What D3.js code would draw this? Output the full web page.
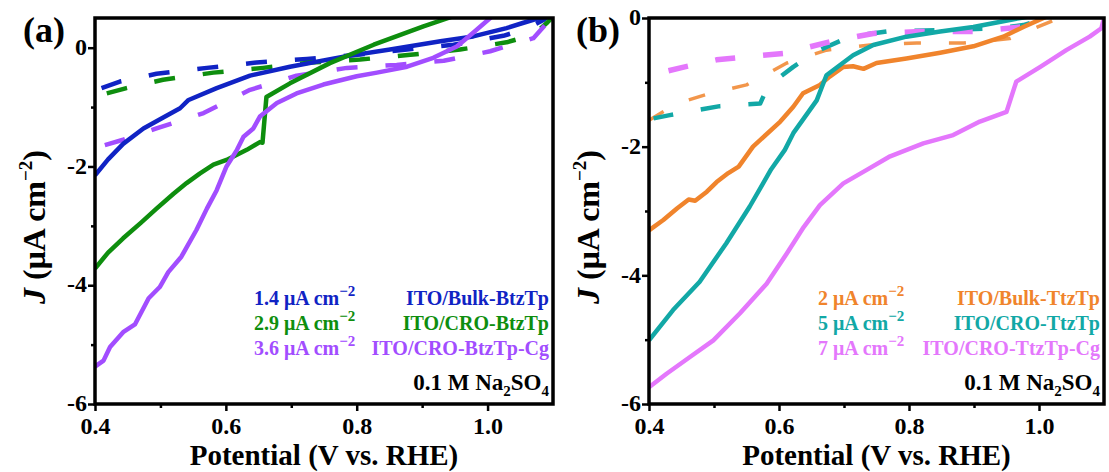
<!DOCTYPE html>
<html><head><meta charset="utf-8">
<script src="https://cdn.jsdelivr.net/npm/d3@7"></script>
<style>
body{margin:0;background:#fff}
svg{display:block}
</style>
</head><body>
<svg id="c" width="1109" height="472"></svg>
<script>
const FONT = "'Liberation Serif', 'Times New Roman', Times, 'DejaVu Serif', serif";
// ---------- tick values / labels ----------
const xTickValues = [0.4, 0.6, 0.8, 1.0];
const xTickLabels = ["0.4", "0.6", "0.8", "1.0"];
const xMinorTicks = [0.5, 0.7, 0.9];
const yTickValues = [0, -2, -4, -6];
const yTickLabels = ["0", "-2", "-4", "-6"];
const yMinorTicks = [-1, -3, -5];

// ---------- panel (a) : light (solid) and dark (dashed) ----------
const bulkBtzTpLight = [[0.400,-2.15],[0.420,-1.88],[0.443,-1.62],[0.474,-1.36],[0.505,-1.17],[0.530,-1.02],[0.543,-0.88],[0.586,-0.68],[0.637,-0.47],[0.698,-0.32],[0.780,-0.15],[0.851,-0.03],[0.928,0.11],[0.978,0.19],[1.029,0.33],[1.055,0.42],[1.085,0.52]];
const croBtzTpLight = [[0.400,-3.72],[0.420,-3.45],[0.443,-3.21],[0.470,-2.95],[0.494,-2.71],[0.520,-2.46],[0.540,-2.28],[0.560,-2.12],[0.581,-1.97],[0.601,-1.89],[0.632,-1.72],[0.652,-1.59],[0.656,-1.60],[0.662,-0.83],[0.698,-0.60],[0.759,-0.26],[0.826,0.05],[0.902,0.36],[0.948,0.53]];
const croBtzTpCgLight = [[0.400,-5.37],[0.413,-5.27],[0.423,-5.04],[0.443,-4.79],[0.461,-4.66],[0.482,-4.22],[0.499,-4.03],[0.512,-3.78],[0.532,-3.52],[0.555,-3.07],[0.571,-2.71],[0.586,-2.40],[0.601,-2.00],[0.617,-1.72],[0.627,-1.50],[0.642,-1.36],[0.652,-1.16],[0.678,-0.93],[0.708,-0.77],[0.749,-0.62],[0.800,-0.48],[0.831,-0.42],[0.877,-0.32],[0.917,-0.17],[0.953,0.02],[0.978,0.25],[1.004,0.50],[1.020,0.65]];
const bulkBtzTpDark = [[0.410,-0.68],[0.438,-0.57],[0.494,-0.44],[0.571,-0.34],[0.647,-0.25],[0.724,-0.19],[0.800,-0.12],[0.877,-0.03],[0.948,0.05],[1.024,0.20],[1.060,0.32],[1.086,0.47],[1.095,0.55]];
const croBtzTpDark = [[0.418,-0.77],[0.448,-0.68],[0.504,-0.54],[0.581,-0.42],[0.657,-0.34],[0.729,-0.25],[0.805,-0.20],[0.882,-0.12],[0.958,-0.03],[1.029,0.09],[1.070,0.22],[1.091,0.42],[1.100,0.52]];
const croBtzTpCgDark = [[0.415,-1.64],[0.443,-1.55],[0.494,-1.36],[0.566,-1.10],[0.637,-0.71],[0.708,-0.47],[0.785,-0.34],[0.861,-0.29],[0.933,-0.22],[1.004,-0.06],[1.070,0.16],[1.091,0.42],[1.098,0.55]];

// ---------- panel (b) ----------
const bulkTtzTpLight = [[0.400,-3.30],[0.422,-3.14],[0.443,-2.96],[0.461,-2.82],[0.471,-2.84],[0.489,-2.70],[0.504,-2.55],[0.522,-2.41],[0.538,-2.31],[0.560,-2.00],[0.602,-1.61],[0.622,-1.38],[0.637,-1.17],[0.663,-1.04],[0.678,-0.91],[0.699,-0.76],[0.714,-0.75],[0.730,-0.79],[0.750,-0.70],[0.796,-0.63],[0.848,-0.54],[0.899,-0.44],[0.945,-0.29],[0.976,-0.14],[1.007,0.0],[1.030,0.10]];
const croTtzTpLight = [[0.400,-5.01],[0.437,-4.54],[0.478,-4.10],[0.519,-3.50],[0.555,-2.93],[0.588,-2.35],[0.609,-2.05],[0.622,-1.79],[0.658,-1.28],[0.673,-0.89],[0.694,-0.73],[0.714,-0.58],[0.745,-0.42],[0.796,-0.29],[0.848,-0.21],[0.899,-0.14],[0.935,-0.07],[0.971,0.0],[1.000,0.05]];
const croTtzTpCgLight = [[0.400,-5.74],[0.427,-5.53],[0.463,-5.27],[0.499,-5.01],[0.540,-4.59],[0.581,-4.13],[0.612,-3.66],[0.638,-3.25],[0.663,-2.91],[0.699,-2.57],[0.735,-2.36],[0.771,-2.15],[0.822,-1.95],[0.868,-1.82],[0.909,-1.61],[0.950,-1.46],[0.965,-0.99],[1.002,-0.76],[1.042,-0.50],[1.078,-0.29],[1.096,-0.16],[1.100,0.0]];
const bulkTtzTpDark = [[0.400,-1.59],[0.443,-1.33],[0.494,-1.17],[0.550,-1.04],[0.612,-0.70],[0.673,-0.50],[0.740,-0.42],[0.812,-0.39],[0.884,-0.39],[0.955,-0.32],[1.017,-0.06],[1.029,0.0]];
const croTtzTpDark = [[0.407,-1.56],[0.432,-1.51],[0.509,-1.37],[0.571,-1.33],[0.583,-1.06],[0.622,-0.76],[0.658,-0.52],[0.709,-0.29],[0.766,-0.21],[0.848,-0.19],[0.935,-0.16],[0.976,-0.11],[1.011,0.0]];
const croTtzTpCgDark = [[0.430,-0.82],[0.455,-0.76],[0.504,-0.65],[0.607,-0.55],[0.678,-0.37],[0.745,-0.24],[0.817,-0.21],[0.899,-0.21],[0.971,-0.14],[1.002,-0.03]];

// ---------- legend text ----------
const legendValuesA = ["1.4", "2.9", "3.6"];
const legendNamesA = ["ITO/Bulk-BtzTp", "ITO/CRO-BtzTp", "ITO/CRO-BtzTp-Cg"];
const legendValuesB = ["2", "5", "7"];
const legendNamesB = ["ITO/Bulk-TtzTp", "ITO/CRO-TtzTp", "ITO/CRO-TtzTp-Cg"];
const colorsA = ["#1023c4", "#0e8e0e", "#a24dff"];
const colorsB = ["#f0842c", "#12a8a6", "#e477fc"];

const svg = d3.select("#c");

function txt(sel) {
  return sel.style("font-family", FONT).style("font-weight", "bold");
}

function panel(cfg) {
  const x = d3.scaleLinear().domain([0.4, 1.1]).range([cfg.left, cfg.right]);
  const y = d3.scaleLinear().domain(cfg.yDomain).range([cfg.bottom, cfg.top]);
  const g = svg.append("g");
  const clipId = "clip" + cfg.id;
  svg.append("clipPath").attr("id", clipId).append("rect")
    .attr("x", cfg.left).attr("y", cfg.top)
    .attr("width", cfg.right - cfg.left).attr("height", cfg.bottom - cfg.top);

  const line = d3.line().x(d => x(d[0])).y(d => y(d[1]));
  const plot = g.append("g").attr("clip-path", `url(#${clipId})`);
  cfg.series.forEach(s => {
    plot.append("path").datum(s.data)
      .attr("d", line)
      .attr("fill", "none")
      .attr("stroke", s.color)
      .attr("stroke-width", s.width)
      .attr("stroke-opacity", s.opacity || 1)
      .attr("stroke-dasharray", s.dash || null)
      .attr("stroke-linejoin", "round");
  });

  // axes
  const xAxis = d3.axisBottom(x).tickValues(xTickValues)
    .tickFormat((d, i) => xTickLabels[i]).tickSize(7).tickPadding(6);
  const xAx = g.append("g").attr("transform", `translate(0,${cfg.bottom})`).call(xAxis);
  const xMin = d3.axisBottom(x).tickValues(xMinorTicks).tickFormat("").tickSize(4);
  g.append("g").attr("transform", `translate(0,${cfg.bottom})`).call(xMin);

  const yAxis = d3.axisLeft(y).tickValues(yTickValues)
    .tickFormat((d, i) => yTickLabels[i]).tickSize(7).tickPadding(1);
  const yAx = g.append("g").attr("transform", `translate(${cfg.left},0)`).call(yAxis);
  const yMin = d3.axisLeft(y).tickValues(yMinorTicks).tickFormat("").tickSize(4);
  g.append("g").attr("transform", `translate(${cfg.left},0)`).call(yMin);

  g.selectAll(".domain").remove();
  g.selectAll(".tick line").attr("stroke", "#000").attr("stroke-width", 2.5);
  txt(g.selectAll(".tick text")).style("font-size", "24px").attr("fill", "#000");
  xAx.selectAll(".tick text").attr("dy", "0.71em");
  yAx.selectAll(".tick text").attr("dy", "0.28em");

  // frame
  g.append("rect").attr("x", cfg.left).attr("y", cfg.top)
    .attr("width", cfg.right - cfg.left).attr("height", cfg.bottom - cfg.top)
    .attr("fill", "none").attr("stroke", "#000").attr("stroke-width", 3.5);

  // axis titles
  txt(g.append("text")).attr("x", (cfg.left + cfg.right) / 2).attr("y", 465)
    .attr("text-anchor", "middle").style("font-size", "29px").text("Potential (V vs. RHE)");
  const yt = txt(g.append("text"))
    .attr("transform", `translate(${cfg.left - 50},${227}) rotate(-90)`)
    .attr("text-anchor", "middle").style("font-size", "32px");
  yt.append("tspan").style("font-style", "italic").text("J");
  yt.append("tspan").text(" (μA cm");
  yt.append("tspan").style("font-size", "19px").attr("dy", -13).text("−2");
  yt.append("tspan").attr("dy", 13).text(")");

  // panel label
  txt(g.append("text")).attr("x", cfg.labelX).attr("y", 42).style("font-size", "36px").text(cfg.label);

  // legend
  const rows = [305, 330, 355];
  cfg.values.forEach((v, i) => {
    const t = txt(g.append("text")).attr("x", cfg.valX).attr("y", rows[i])
      .style("font-size", "20px").attr("fill", cfg.colors[i]);
    t.append("tspan").text(v + " μA cm");
    t.append("tspan").style("font-size", "15px").attr("dy", -9).text("−2");
    txt(g.append("text")).attr("x", cfg.right - 4).attr("y", rows[i])
      .attr("text-anchor", "end").style("font-size", "20px").attr("fill", cfg.colors[i])
      .text(cfg.names[i]);
  });
  const el = txt(g.append("text")).attr("x", cfg.right - 4).attr("y", 390)
    .attr("text-anchor", "end").style("font-size", "23px").attr("fill", "#000");
  el.append("tspan").text("0.1 M Na");
  el.append("tspan").style("font-size", "15px").attr("dy", 6).text("2");
  el.append("tspan").attr("dy", -6).text("SO");
  el.append("tspan").style("font-size", "15px").attr("dy", 6).text("4");
}

panel({
  id: "a", left: 95, right: 553, top: 18, bottom: 404, yDomain: [-6, 0.5],
  label: "(a)", labelX: 23, valX: 254,
  values: legendValuesA, names: legendNamesA, colors: colorsA,
  series: [
    {data: bulkBtzTpDark, color: colorsA[0], width: 4.5, dash: "21,28"},
    {data: croBtzTpDark, color: colorsA[1], width: 4.5, dash: "21,28"},
    {data: croBtzTpCgDark, color: colorsA[2], width: 4.5, dash: "21,28"},
    {data: bulkBtzTpLight, color: colorsA[0], width: 4.5},
    {data: croBtzTpLight, color: colorsA[1], width: 4.5},
    {data: croBtzTpCgLight, color: colorsA[2], width: 4.5}
  ]
});

panel({
  id: "b", left: 649, right: 1104, top: 18, bottom: 404, yDomain: [-6, 0],
  label: "(b)", labelX: 576, valX: 818,
  values: legendValuesB, names: legendNamesB, colors: colorsB,
  series: [
    {data: bulkTtzTpDark, color: colorsB[0], width: 3.5, dash: "17,28", opacity: 0.85},
    {data: croTtzTpDark, color: colorsB[1], width: 4.5, dash: "20,28"},
    {data: croTtzTpCgDark, color: colorsB[2], width: 5.5, dash: "20,28"},
    {data: bulkTtzTpLight, color: colorsB[0], width: 4.5},
    {data: croTtzTpLight, color: colorsB[1], width: 4.5},
    {data: croTtzTpCgLight, color: colorsB[2], width: 4.5}
  ]
});
</script>
</body></html>
